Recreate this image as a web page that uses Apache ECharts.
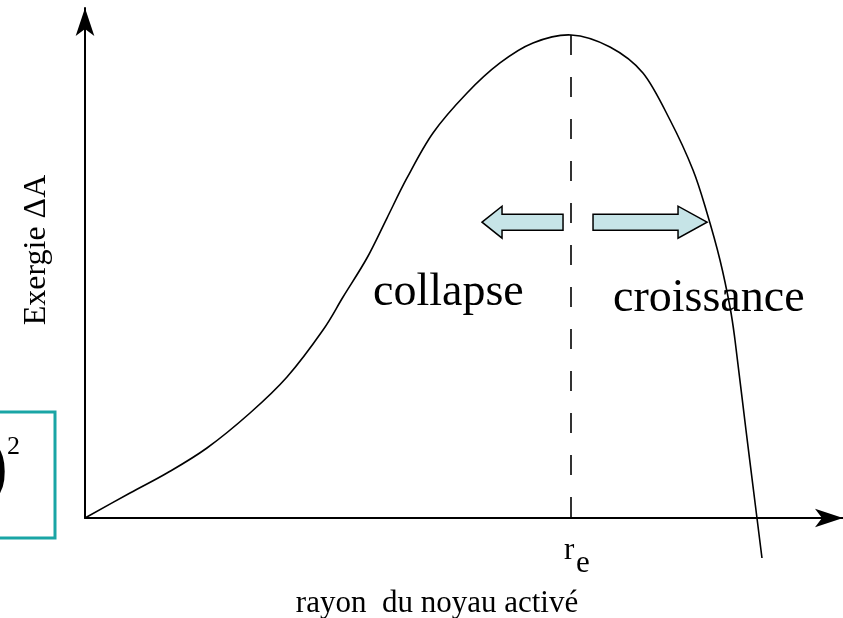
<!DOCTYPE html>
<html>
<head>
<meta charset="utf-8">
<script src="https://cdn.jsdelivr.net/npm/echarts@6/dist/echarts.min.js"></script>
<style>
html, body { margin: 0; padding: 0; background: #fff; }
#main { width: 843px; height: 618px; }
</style>
</head>
<body>
<div id="main"></div>
<script>
// rayon (unités arbitraires) et exergie
var rayon   = [0, 0.594, 1.082, 1.609, 2.177, 2.665, 3.140, 3.404, 3.720, 3.984, 4.248, 4.591, 5.040, 5.475, 5.910, 6.412, 6.926, 7.361, 7.718, 8.021, 8.206, 8.377, 8.509, 8.575, 8.720, 8.865, 8.931];
var exergie = [0, 0.490, 0.882, 1.373, 2.059, 2.765, 3.686, 4.333, 5.098, 5.882, 6.667, 7.549, 8.333, 8.922, 9.314, 9.471, 9.235, 8.725, 7.804, 6.824, 5.980, 5.059, 4.137, 3.490, 1.725, 0, -0.784];
var rEquilibre = 6.412;
var exergieMax = 9.471;

var serif = '"Liberation Serif", "DejaVu Serif", serif';

var points = [];
for (var i = 0; i < rayon.length; i++) {
    points.push([rayon[i], exergie[i]]);
}

// courbe lissée (Catmull-Rom -> Bézier) passant par les points lus
var renderCurve = function(params, api) {
    if (params.dataIndex !== 0) {
        return;
    }
    var p = [];
    for (var k = 0; k < points.length; k++) {
        p.push(api.coord(points[k]));
    }
    var n = p.length;
    var d = 'M' + p[0][0] + ' ' + p[0][1];
    for (var j = 0; j < n - 1; j++) {
        var a = p[Math.max(j - 1, 0)], b = p[j], c = p[j + 1], e = p[Math.min(j + 2, n - 1)];
        var c1x = b[0] + (c[0] - a[0]) / 6, c1y = b[1] + (c[1] - a[1]) / 6;
        var c2x = c[0] - (e[0] - b[0]) / 6, c2y = c[1] - (e[1] - b[1]) / 6;
        d += ' C' + c1x + ' ' + c1y + ' ' + c2x + ' ' + c2y + ' ' + c[0] + ' ' + c[1];
    }
    return {
        type: 'path',
        shape: { pathData: d },
        style: { fill: 'none', stroke: '#000', lineWidth: 1.6 }
    };
};

var chart = echarts.init(document.getElementById('main'));

var option = {
    animation: false,
    grid: { left: 85, right: 0, top: 8, bottom: 100, outerBoundsMode: 'none', containLabel: false },
    xAxis: {
        type: 'value', min: 0, max: 10,
        name: 'rayon  du noyau activé',
        nameLocation: 'middle', nameGap: 70,
        nameTextStyle: { fontFamily: serif, fontSize: 31, color: '#000', padding: [0, 54, 0, 0] },
        axisLine: { onZero: false, symbol: ['none', 'arrow'], symbolSize: [14, 28], lineStyle: { color: '#000', width: 2 } },
        axisTick: { show: false }, axisLabel: { show: false }, splitLine: { show: false }
    },
    yAxis: {
        type: 'value', min: 0, max: 10,
        name: 'Exergie ΔA',
        nameLocation: 'middle', nameGap: 32,
        nameTextStyle: { fontFamily: serif, fontSize: 32, color: '#000', padding: [0, 0, 0, 26] },
        axisLine: { symbol: ['none', 'arrow'], symbolSize: [14, 28], lineStyle: { color: '#000', width: 2 } },
        axisTick: { show: false }, axisLabel: { show: false }, splitLine: { show: false }
    },
    series: [{
        type: 'custom',
        data: points,
        renderItem: renderCurve,
        clip: false,
        silent: true,
        markLine: {
            silent: true,
            symbol: ['none', 'none'],
            label: { show: false },
            lineStyle: { color: '#000', width: 1.6, type: [20, 22] },
            data: [[{ coord: [rEquilibre, exergieMax] }, { coord: [rEquilibre, 0] }]]
        }
    }]
};
chart.setOption(option);

// annotations placées à partir des échelles
var base = chart.convertToPixel({ gridIndex: 0 }, [rEquilibre, 0]);
var xr = base[0], y0 = base[1];
var ay = chart.convertToPixel({ gridIndex: 0 }, [0, 5.8])[1];

var arrowStyle = { fill: '#c6e4e7', stroke: '#000', lineWidth: 1.5 };
function arrow(tipX, baseX, endX) {
    return [[tipX, ay], [baseX, ay - 16], [baseX, ay - 8], [endX, ay - 8], [endX, ay + 8], [baseX, ay + 8], [baseX, ay + 16]];
}

chart.setOption({
    graphic: [
        { type: 'polygon', shape: { points: arrow(xr - 89, xr - 69, xr - 8) }, style: arrowStyle },
        { type: 'polygon', shape: { points: arrow(xr + 136, xr + 107, xr + 22) }, style: arrowStyle },
        { type: 'text', x: xr - 198, y: ay + 48, style: { text: 'collapse', font: '46px ' + serif, fill: '#000' } },
        { type: 'text', x: xr + 42, y: ay + 54, style: { text: 'croissance', font: '46px ' + serif, fill: '#000' } },
        { type: 'text', x: xr - 7, y: y0 + 17, style: { text: 'r', font: '31px ' + serif, fill: '#000' } },
        { type: 'text', x: xr + 5, y: y0 + 30, style: { text: 'e', font: '31px ' + serif, fill: '#000' } },
        // morceau d'encadré voisin
        { type: 'rect', shape: { x: -5, y: 412, width: 60, height: 126 }, style: { fill: 'none', stroke: '#1aa5a5', lineWidth: 3 } },
        { type: 'text', x: 8, y: 432, style: { text: ')', font: '76px ' + serif, fill: '#000', align: 'right' } },
        { type: 'text', x: 7, y: 434, style: { text: '2', font: '26px ' + serif, fill: '#000' } }
    ]
});
</script>
</body>
</html>
